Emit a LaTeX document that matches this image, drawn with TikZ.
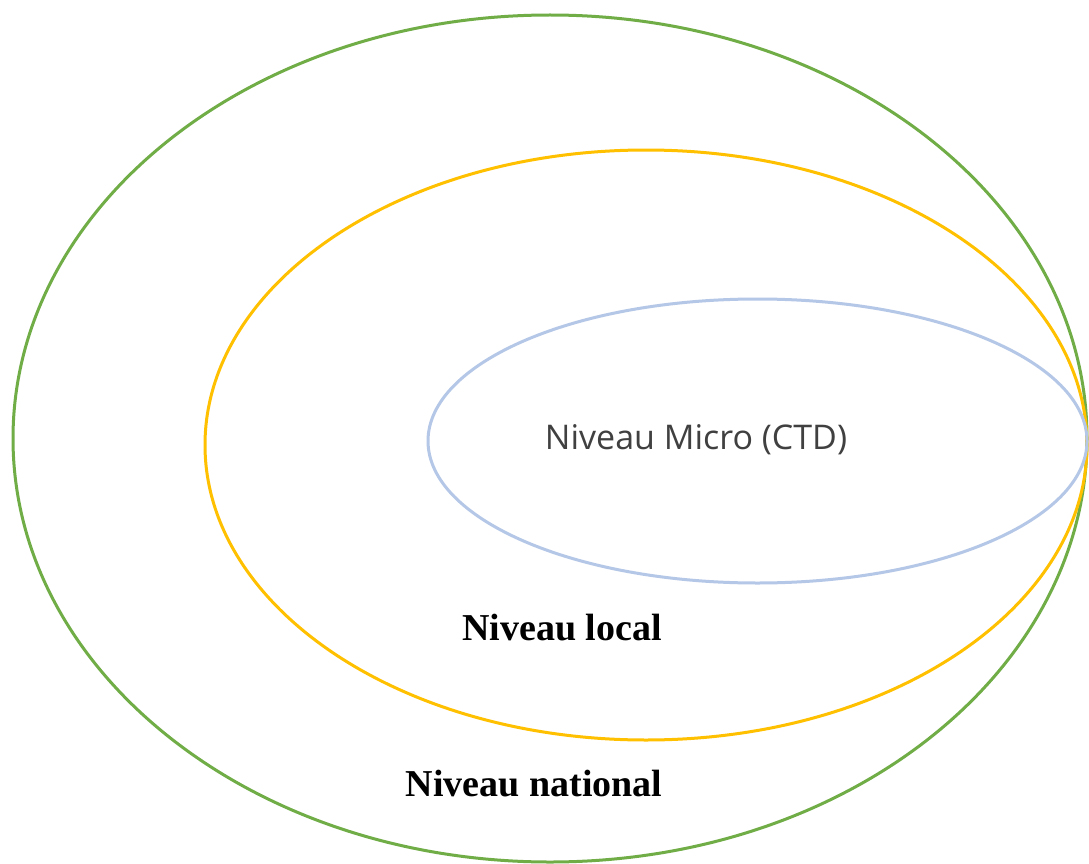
\documentclass[tikz,border=0pt]{standalone}
\usepackage{fontspec}
\setmainfont{Liberation Serif}
\newfontfamily\microfont{Open Sans}
\definecolor{ringgreen}{HTML}{70AD47}
\definecolor{ringyellow}{HTML}{FFC000}
\definecolor{ringblue}{HTML}{B4C7E7}
\definecolor{textgrey}{HTML}{404040}
\begin{document}
\begin{tikzpicture}[x=1pt,y=-1pt,
  ring/.style={line width=3pt},
  boldlabel/.style={font=\fontsize{38}{40}\selectfont\bfseries, text=black, inner sep=0pt},
  microlabel/.style={font=\microfont\fontsize{34}{36}\selectfont, text=textgrey, inner sep=0pt}]
\useasboundingbox (0,0) rectangle (1089,864);
\fill[white] (0,0) rectangle (1089,864);
\draw[ring, ringgreen] (550,438.5) ellipse [x radius=537, y radius=423.5];
\draw[ring, ringyellow] (646,445) ellipse [x radius=441, y radius=295];
\draw[ring, ringblue] (757.5,441) ellipse [x radius=329.5, y radius=142];
\node[microlabel] (micro) at (696,440) {Niveau Micro (CTD)};
\node[boldlabel] (local) at (562,628) {Niveau local};
\node[boldlabel] (national) at (534,784) {Niveau national};
\end{tikzpicture}
\end{document}
